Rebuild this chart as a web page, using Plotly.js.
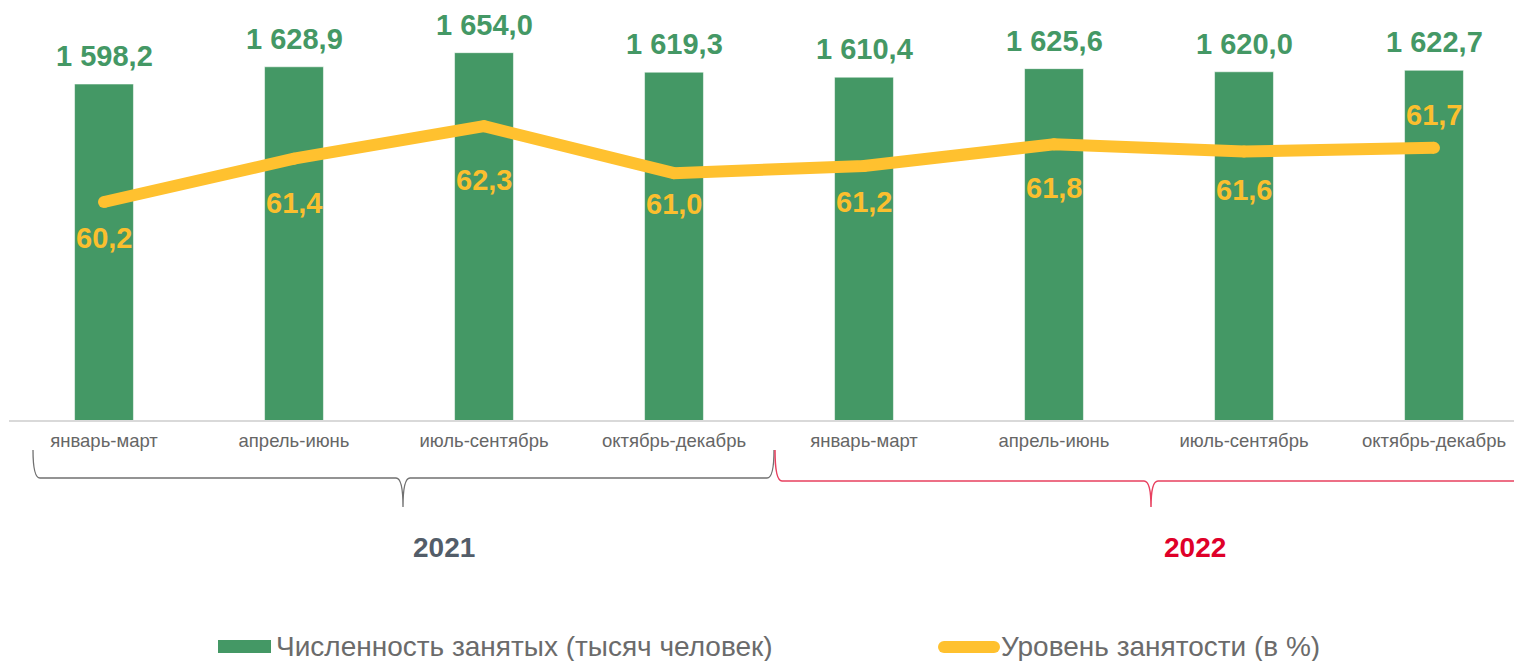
<!DOCTYPE html>
<html>
<head>
<meta charset="utf-8">
<script src="https://cdn.plot.ly/plotly-3.0.1.min.js"></script>
<style>
  html, body { margin: 0; padding: 0; background: #ffffff; }
  #chart { width: 1514px; height: 661px; }
</style>
</head>
<body>
<div id="chart"></div>
<script>
// ---- data ----
const categories = ['январь-март', 'апрель-июнь', 'июль-сентябрь', 'октябрь-декабрь',
                    'январь-март', 'апрель-июнь', 'июль-сентябрь', 'октябрь-декабрь'];
const years = ['2021', '2022'];
const employed = [1598.2, 1628.9, 1654.0, 1619.3, 1610.4, 1625.6, 1620.0, 1622.7];
const rate = [60.2, 61.4, 62.3, 61.0, 61.2, 61.8, 61.6, 61.7];
const seriesNames = ['Численность занятых (тысяч человек)', 'Уровень занятости (в %)'];

// ---- style / placement (not data) ----
const GREEN = '#449865';
const YELLOW = '#FFC12F';
const FONT = 'Liberation Sans, Arial, sans-serif';
const rateLabelShift = [36, 44, 54, 31, 36, 44, 39, -33]; // px, positive = below point

const W = 1514, H = 661;
const M = { l: 9, r: 0, t: 10, b: 241 };
const plotW = W - M.l - M.r, plotH = H - M.t - M.b;
const px = v => (v - M.l) / plotW;                 // pixel x -> paper x
const py = v => (H - M.b - v) / plotH;             // pixel y -> paper y

const xIdx = categories.map((_, i) => i);

function fmtNum(v) {
  const parts = v.toFixed(1).split('.');
  return parts[0].replace(/\B(?=(\d{3})+(?!\d))/g, ' ') + ',' + parts[1];
}
function fmtRate(v) { return v.toFixed(1).replace('.', ','); }

const traces = [
  {
    type: 'bar', x: xIdx, y: employed, name: seriesNames[0],
    width: 0.31,
    marker: { color: GREEN, line: { color: 'rgba(255,255,255,0.55)', width: 1 } },
    hoverinfo: 'skip'
  },
  {
    type: 'scatter', mode: 'lines+markers', x: xIdx, y: rate, yaxis: 'y2', name: seriesNames[1],
    line: { color: YELLOW, width: 12 },
    marker: { color: YELLOW, size: 12, line: { width: 0 } },
    hoverinfo: 'skip'
  }
];

const annotations = [];
employed.forEach((v, i) => {
  annotations.push({
    x: i, y: v, xref: 'x', yref: 'y', text: '<b>' + fmtNum(v) + '</b>', showarrow: false,
    xanchor: 'center', yanchor: 'middle', yshift: 28,
    font: { family: FONT, size: 29, color: GREEN }
  });
});
rate.forEach((v, i) => {
  annotations.push({
    x: i, y: v, xref: 'x', yref: 'y2', text: '<b>' + fmtRate(v) + '</b>', showarrow: false,
    xanchor: 'center', yanchor: 'middle', yshift: -rateLabelShift[i],
    font: { family: FONT, size: 29, color: '#FBBF2E' }
  });
});
// year labels
annotations.push({
  x: px(444), y: py(547), xref: 'paper', yref: 'paper', text: '<b>' + years[0] + '</b>',
  showarrow: false, xanchor: 'center', yanchor: 'middle',
  font: { family: FONT, size: 28, color: '#535D69' }
});
annotations.push({
  x: px(1195), y: py(547), xref: 'paper', yref: 'paper', text: '<b>' + years[1] + '</b>',
  showarrow: false, xanchor: 'center', yanchor: 'middle',
  font: { family: FONT, size: 28, color: '#DF0029' }
});
// legend texts
annotations.push({
  x: px(274), y: py(646), xref: 'paper', yref: 'paper', text: seriesNames[0],
  showarrow: false, xanchor: 'left', yanchor: 'middle',
  font: { family: FONT, size: 28, color: '#6B6B6B' }
});
annotations.push({
  x: px(999), y: py(646), xref: 'paper', yref: 'paper', text: seriesNames[1],
  showarrow: false, xanchor: 'left', yanchor: 'middle',
  font: { family: FONT, size: 28, color: '#6B6B6B' }
});

function bracePath(x0, x1, xm, yTop, yH, yTip, r) {
  const P = (a, b) => px(a) + ',' + py(b);
  return 'M ' + P(x0, yTop) +
    ' Q ' + P(x0, yH) + ' ' + P(x0 + r, yH) +
    ' L ' + P(xm - r, yH) +
    ' Q ' + P(xm, yH) + ' ' + P(xm, yTip) +
    ' Q ' + P(xm, yH) + ' ' + P(xm + r, yH) +
    ' L ' + P(x1 - r, yH) +
    ' Q ' + P(x1, yH) + ' ' + P(x1, yTop);
}

const shapes = [
  { type: 'path', xref: 'paper', yref: 'paper', path: bracePath(33, 774, 403, 450, 478, 507, 7),
    line: { color: '#707070', width: 1.3 } },
  { type: 'path', xref: 'paper', yref: 'paper', path: bracePath(775, 1529, 1151, 450, 481, 507, 7),
    line: { color: '#E8405F', width: 1.5 } },
  // legend swatches
  { type: 'rect', xref: 'paper', yref: 'paper', x0: px(218), x1: px(271), y0: py(640), y1: py(653),
    fillcolor: GREEN, line: { width: 0 } },
  { type: 'rect', xref: 'paper', yref: 'paper', x0: px(944), x1: px(994), y0: py(641), y1: py(653),
    fillcolor: YELLOW, line: { width: 0 } },
  { type: 'circle', xref: 'paper', yref: 'paper', x0: px(938), x1: px(950), y0: py(641), y1: py(653),
    fillcolor: YELLOW, line: { width: 0 } },
  { type: 'circle', xref: 'paper', yref: 'paper', x0: px(988), x1: px(1000), y0: py(641), y1: py(653),
    fillcolor: YELLOW, line: { width: 0 } }
];

const layout = {
  width: W, height: H,
  margin: M,
  paper_bgcolor: '#ffffff', plot_bgcolor: '#ffffff',
  showlegend: false,
  font: { family: FONT },
  xaxis: {
    range: [-0.5, -0.5 + plotW / 190],
    tickvals: xIdx, ticktext: categories,
    tickfont: { family: FONT, size: 18.5, color: '#666666' },
    ticks: 'outside', ticklen: 3, tickcolor: 'rgba(0,0,0,0)',
    showgrid: false, zeroline: false,
    showline: true, linecolor: '#D9D9D9', linewidth: 2,
    fixedrange: true
  },
  yaxis: {
    range: [1000, 1730], visible: false, showgrid: false, zeroline: false, fixedrange: true
  },
  yaxis2: {
    range: [54.16, 65.52], overlaying: 'y', side: 'right', visible: false,
    showgrid: false, zeroline: false, fixedrange: true
  },
  annotations: annotations,
  shapes: shapes
};

Plotly.newPlot('chart', traces, layout, { staticPlot: true, displayModeBar: false });
</script>
</body>
</html>
